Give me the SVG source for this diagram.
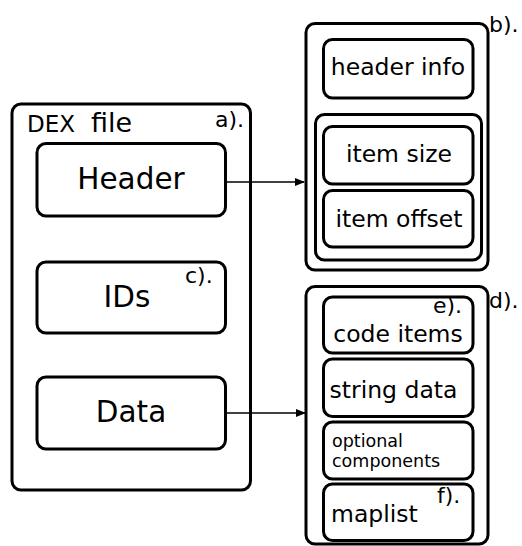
<svg xmlns="http://www.w3.org/2000/svg" width="522" height="546" viewBox="0 0 522 546">
<defs>
<style>
.box{fill:#fff;stroke:#000;stroke-width:3}
.t{font-family:"DejaVu Sans",Verdana,sans-serif;fill:#000}
.big{font-size:29.5px;text-anchor:middle}
.mid{font-size:23.5px;text-anchor:middle}
.lbl{font-size:22px}
.conn{stroke:#000;stroke-width:1.5;fill:none}
</style>
<marker id="arr" markerWidth="10" markerHeight="8" refX="9" refY="4" orient="auto" markerUnits="userSpaceOnUse">
<path d="M0,0 L10,4 L0,8 Z" fill="#000"/>
</marker>
</defs>
<rect width="522" height="546" fill="#fff"/>
<g id="dexfile">
<rect class="box" x="12" y="104" width="238.5" height="386" rx="9"/>
<text class="t" x="27" y="132" font-size="23" fill="#222">DEX</text>
<text class="t" x="91" y="132" font-size="27" fill="#222">file</text>
<text class="t lbl" x="215" y="127">a).</text>
</g>
<g id="header">
<rect class="box" x="37" y="143.5" width="188.5" height="72.5" rx="9"/>
<text class="t big" x="131" y="189">Header</text>
</g>
<g id="ids">
<rect class="box" x="37" y="262" width="188.5" height="71" rx="9"/>
<text class="t big" x="127" y="307">IDs</text>
<text class="t lbl" x="185" y="283">c).</text>
</g>
<g id="data">
<rect class="box" x="37" y="377" width="188.5" height="72" rx="9"/>
<text class="t big" x="131" y="422">Data</text>
</g>
<g id="headerDetail">
<rect class="box" x="306" y="23.5" width="182" height="246.5" rx="9"/>
<text class="t lbl" x="489" y="32">b).</text>
</g>
<g id="headerInfo">
<rect class="box" x="323.5" y="39.5" width="149.5" height="58.5" rx="9"/>
<text class="t mid" x="398" y="75">header info</text>
</g>
<g id="itemGroup">
<rect class="box" x="315.5" y="114.5" width="166" height="145.5" rx="9"/>
</g>
<g id="itemSize">
<rect class="box" x="323.5" y="126.5" width="149.5" height="57.5" rx="9"/>
<text class="t mid" x="399" y="162">item size</text>
</g>
<g id="itemOffset">
<rect class="box" x="323.5" y="190.5" width="149.5" height="56.5" rx="9"/>
<text class="t mid" x="399" y="227">item offset</text>
</g>
<g id="dataDetail">
<rect class="box" x="306" y="286.5" width="182" height="257.5" rx="9"/>
<text class="t lbl" x="489" y="308">d).</text>
</g>
<g id="codeItems">
<rect class="box" x="323.5" y="297" width="149.5" height="56" rx="9"/>
<text class="t lbl" x="433" y="313">e).</text>
<text class="t mid" x="398" y="342">code items</text>
</g>
<g id="stringData">
<rect class="box" x="323.5" y="359" width="149.5" height="57.5" rx="9"/>
<text class="t mid" x="393.5" y="398">string data</text>
</g>
<g id="optional">
<rect class="box" x="323.5" y="422" width="149.5" height="57" rx="9"/>
<text class="t" x="332" y="447" font-size="17.5">optional</text>
<text class="t" x="332" y="467" font-size="17.5">components</text>
</g>
<g id="maplist">
<rect class="box" x="323.5" y="484" width="149.5" height="56.5" rx="9"/>
<text class="t" x="331" y="522" font-size="23.5">maplist</text>
<text class="t lbl" x="437" y="503">f).</text>
</g>
<g id="connectors">
<line class="conn" x1="225.5" y1="182" x2="304" y2="182" marker-end="url(#arr)"/>
<line class="conn" x1="225.5" y1="413" x2="305" y2="413" marker-end="url(#arr)"/>
</g>
</svg>
